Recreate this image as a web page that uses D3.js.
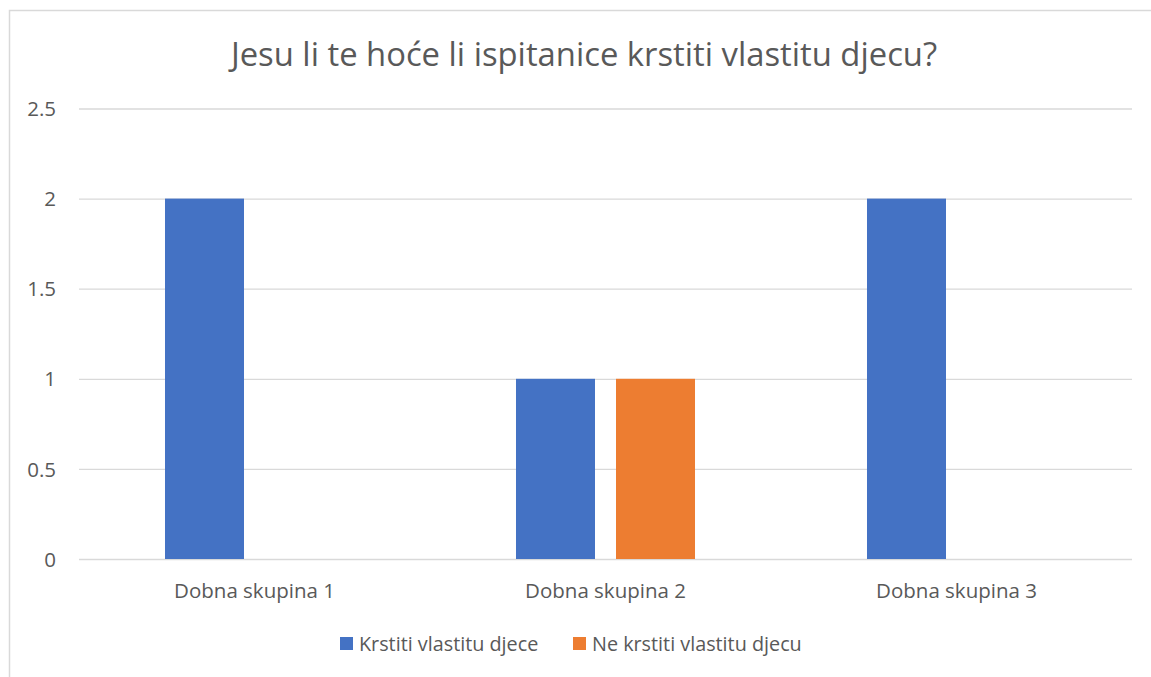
<!DOCTYPE html>
<html><head><meta charset="utf-8">
<script src="https://cdn.jsdelivr.net/npm/d3@7"></script>
<style>body{margin:0;background:#fff}svg{display:block}</style>
</head><body>
<svg id="c" width="1151" height="677"></svg>
<script>
const title = "Jesu li te hoće li ispitanice krstiti vlastitu djecu?";
const categories = ["Dobna skupina 1", "Dobna skupina 2", "Dobna skupina 3"];
const seriesNames = ["Krstiti vlastitu djece", "Ne krstiti vlastitu djecu"];
const krstiti = [2, 1, 2];
const neKrstiti = [0, 1, 0];
const yTicks = [0, 0.5, 1, 1.5, 2, 2.5];
const colors = ["#4472C4", "#ED7D31"];

(function () {
const font = "'Open Sans', 'Noto Sans', sans-serif";
const svg = d3.select("#c");
svg.append("rect").attr("x", 9.5).attr("y", 10.5).attr("width", 1160).attr("height", 700)
  .attr("fill", "#fff").attr("stroke", "#d9d9d9").attr("stroke-width", 1.5);

const pLeft = 79, pRight = 1132, pTop = 108.5, pBottom = 559;
const y = d3.scaleLinear().domain([0, 2.5]).range([pBottom, pTop]);
const x0 = d3.scaleBand().domain(categories).range([pLeft, pRight]).paddingInner(0.49).paddingOuter(0.245);
const x1 = d3.scaleBand().domain(seriesNames).range([0, x0.bandwidth()]).paddingInner(0.21);

const yAxis = d3.axisLeft(y).tickValues(yTicks).tickSize(-(pRight - pLeft)).tickFormat(d3.format("~g")).tickPadding(23);
const gy = svg.append("g").attr("transform", `translate(${pLeft},0)`).call(yAxis);
gy.select(".domain").remove();
gy.selectAll(".tick line").attr("stroke", "#d9d9d9").attr("stroke-width", 1.3);
gy.selectAll(".tick text").attr("fill", "#595959").style("font-family", font).style("font-size", "20.5px").attr("dy", "0.35em");

const data = categories.map((c, i) => ({ c, vals: [krstiti[i], neKrstiti[i]] }));
const g = svg.append("g");
data.forEach(d => {
  d.vals.forEach((v, j) => {
    if (v <= 0) return;
    g.append("rect")
      .attr("x", x0(d.c) + x1(seriesNames[j]))
      .attr("y", y(v))
      .attr("width", x1.bandwidth())
      .attr("height", y(0) - y(v))
      .attr("fill", colors[j]);
  });
});

const xAxis = d3.axisBottom(x0).tickSize(0).tickPadding(24);
const gx = svg.append("g").attr("transform", `translate(0,${pBottom})`).call(xAxis);
gx.select(".domain").remove();
gx.selectAll(".tick text").attr("fill", "#595959").style("font-family", font).style("font-size", "20.5px");

svg.append("text").attr("x", 584).attr("y", 66).attr("text-anchor", "middle")
  .attr("fill", "#595959").style("font-family", font).style("font-size", "32.8px").text(title);

const legendItems = [{ name: seriesNames[0], color: colors[0], x: 340 }, { name: seriesNames[1], color: colors[1], x: 573 }];
legendItems.forEach(it => {
  svg.append("rect").attr("x", it.x).attr("y", 637).attr("width", 13).attr("height", 13).attr("fill", it.color);
  svg.append("text").attr("x", it.x + 19).attr("y", 650.5).attr("fill", "#595959")
    .style("font-family", font).style("font-size", "19.8px").text(it.name);
});
})();
</script>
</body></html>
